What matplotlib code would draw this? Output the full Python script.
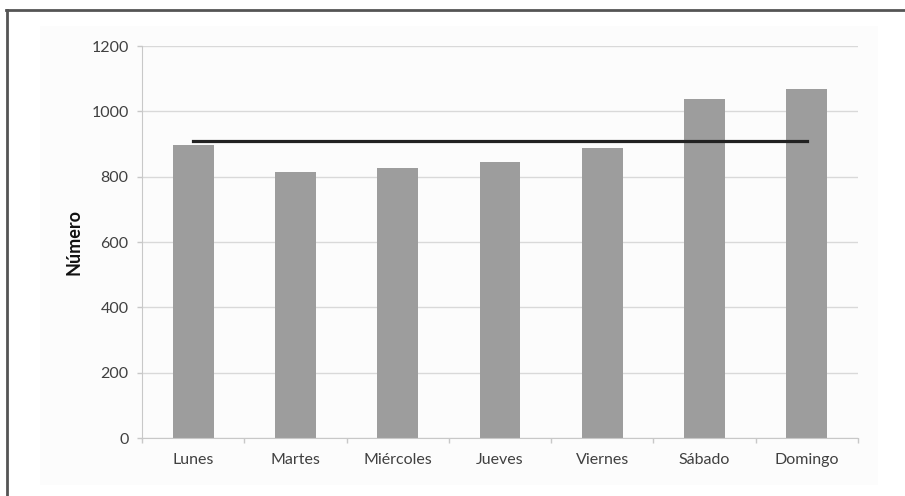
import numpy as np
import matplotlib.pyplot as plt
from matplotlib.lines import Line2D
from matplotlib.patches import Rectangle

dias = ['Lunes', 'Martes', 'Miércoles', 'Jueves', 'Viernes', 'Sábado', 'Domingo']
numero = [897, 815, 826, 845, 887, 1037, 1067]
yticks = [0, 200, 400, 600, 800, 1000, 1200]

plt.rcParams['font.family'] = ['Lato', 'DejaVu Sans']

fig = plt.figure(figsize=(9.05, 4.96), dpi=100)
W, H = 905, 496

# light panel behind the chart
fig.add_artist(Rectangle((40 / W, 1 - 485 / H), 838 / W, 459 / H,
                         transform=fig.transFigure, facecolor='#fcfcfc',
                         edgecolor='none', zorder=-5))
# frame lines, top and left
fig.add_artist(Line2D([6 / W, 1], [1 - 10 / H, 1 - 10 / H], transform=fig.transFigure,
                      color='#555555', lw=2))
fig.add_artist(Line2D([7 / W, 7 / W], [1 - 10 / H, 0], transform=fig.transFigure,
                      color='#555555', lw=2))

ax = fig.add_axes([142 / W, 1 - 438 / H, 716 / W, 392 / H])
ax.set_facecolor('none')

x = np.arange(len(dias))
ax.bar(x, numero, width=0.4, color='#9d9d9d', zorder=2)
# average over the week
media = np.mean(numero)
ax.plot([x[0], x[-1]], [media, media], color='#222222', lw=2.3, zorder=3)

ax.set_xlim(-0.5, len(dias) - 0.5)
ax.set_ylim(0, 1200)
ax.set_yticks(yticks)
ax.yaxis.grid(True, color='#d9d9d9', lw=1)
ax.set_axisbelow(True)

ax.set_xticks(np.arange(-0.5, len(dias)), minor=False)
ax.set_xticklabels([])
ax.set_xticks(x, minor=True)
ax.set_xticklabels(dias, minor=True)
ax.tick_params(axis='x', which='major', length=3.6, color='#c8c8c8', width=1)
ax.tick_params(axis='x', which='minor', length=0, pad=11, labelsize=11.5, labelcolor='#404040')
ax.tick_params(axis='y', length=3.6, color='#c8c8c8', width=1, pad=6,
               labelsize=11.5, labelcolor='#404040')

for s in ['top', 'right']:
    ax.spines[s].set_visible(False)
for s in ['left', 'bottom']:
    ax.spines[s].set_color('#c8c8c8')

ax.set_ylabel('Número', fontweight='bold', fontsize=13, labelpad=6, color='#111111')

fig.savefig('out.png', dpi=100, facecolor='white')
